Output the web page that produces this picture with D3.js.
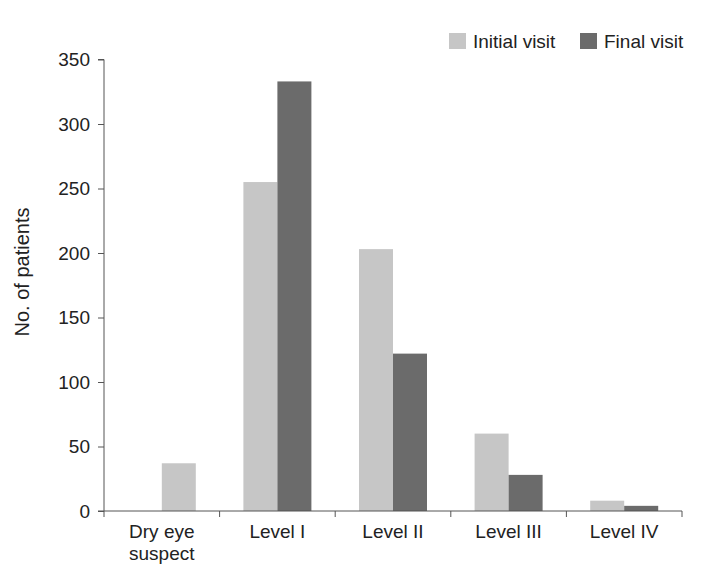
<!DOCTYPE html>
<html><head><meta charset="utf-8">
<script src="https://cdn.jsdelivr.net/npm/d3@7"></script>
<style>body{margin:0;background:#fff;} text{font-family:"Liberation Sans",Arial,sans-serif;}</style>
</head><body>
<svg id="c" width="703" height="578"></svg>
<script>
const categories = [["Dry eye","suspect"],["Level I"],["Level II"],["Level III"],["Level IV"]];
const seriesNames = ["Initial visit","Final visit"];
const initialVisit = [37, 255, 203, 60, 8];
const finalVisit = [null, 333, 122, 28, 4];
const yTicks = [0,50,100,150,200,250,300,350];
const colors = ["#c6c6c6","#6b6b6b"];

const svg = d3.select("#c");
const m = {left:104, right:21, top:59.5, bottom:67};
const W = 703, H = 578;
const x0 = m.left, x1 = W - m.right, y0 = H - m.bottom, y1 = m.top;

const keys = categories.map(c => c.join(" "));
const x = d3.scaleBand().domain(keys).range([x0, x1]).padding(0);
const xs = d3.scaleBand().domain([0,1]).range([0, x.bandwidth()]).paddingInner(0).paddingOuter(0.7);
const y = d3.scaleLinear().domain([0,350]).range([y0, y1]);

// bars
const bars = [];
keys.forEach((k,i) => {
  const hasFinal = finalVisit[i] != null;
  if (initialVisit[i] != null) bars.push({k, v: initialVisit[i], s: 0, slot: hasFinal ? 0 : 1});
  if (hasFinal) bars.push({k, v: finalVisit[i], s: 1, slot: 1});
});
svg.append("g").selectAll("rect").data(bars).join("rect")
  .attr("x", d => x(d.k) + xs(d.slot))
  .attr("width", xs.bandwidth())
  .attr("y", d => y(d.v))
  .attr("height", d => y(0) - y(d.v))
  .attr("fill", d => colors[d.s]);

// y axis
const ya = svg.append("g").attr("transform", `translate(${x0},0)`)
  .call(d3.axisLeft(y).tickValues(yTicks).tickSize(6).tickPadding(8));
ya.select(".domain").attr("stroke","#555").attr("d", `M-6,${y1}H0V${y0}H-6`);
ya.selectAll(".tick line").attr("stroke","#555");
ya.selectAll(".tick text").attr("font-size",19).attr("fill","#222").style("font-family","Liberation Sans, Arial, sans-serif");

// x axis
const xa = svg.append("g").attr("transform", `translate(0,${y0})`);
xa.append("line").attr("x1", x0).attr("x2", x1).attr("stroke","#555");
const bounds = keys.map(k => x(k)).concat([x1]);
xa.selectAll("line.t").data(bounds).join("line").attr("class","t")
  .attr("x1", d => d).attr("x2", d => d).attr("y1", 0).attr("y2", 6).attr("stroke","#555");
categories.forEach((lines,i) => {
  const t = xa.append("text").attr("text-anchor","middle").attr("font-size",19).attr("fill","#222")
    .attr("x", x(keys[i]) + x.bandwidth()/2).attr("y", 27);
  lines.forEach((ln,j) => t.append("tspan").attr("x", x(keys[i]) + x.bandwidth()/2).attr("dy", j ? 22 : 0).text(ln));
});

// y label
svg.append("text").attr("transform", `translate(29,272) rotate(-90)`)
  .attr("text-anchor","middle").attr("font-size",20).attr("fill","#222").text("No. of patients");

// legend
const leg = svg.append("g");
const legX = [449, 580];
seriesNames.forEach((n,i) => {
  leg.append("rect").attr("x", legX[i]).attr("y", 33).attr("width", 17).attr("height", 16).attr("fill", colors[i]);
  leg.append("text").attr("x", legX[i] + 24).attr("y", 48).attr("font-size",19).attr("fill","#222").text(n);
});
</script>
</body></html>
